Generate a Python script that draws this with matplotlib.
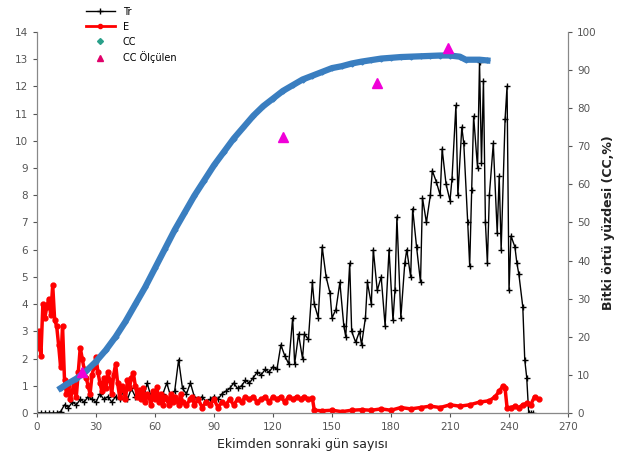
import matplotlib.pyplot as plt
from matplotlib.lines import Line2D

# Tr (transpirasyon) - gun, deger
tr_days = [0, 2, 4, 6, 8, 10, 12, 14, 16, 18, 20, 22, 24, 26, 28, 30, 32, 34, 36, 38,
           40, 42, 44, 46, 48, 50, 52, 54, 56, 58, 60, 62, 64, 66, 68, 70, 72, 74, 76, 78,
           80, 82, 84, 86, 88, 90, 92, 94, 96, 98, 100, 102, 104, 106, 108, 110, 112, 114,
           116, 118, 120, 122, 124, 126, 128, 130, 131, 133, 135, 136, 138, 140, 141, 143,
           145, 147, 149, 150, 152, 154, 156, 157, 159, 160, 162, 164, 165, 167, 168, 170,
           171, 173, 175, 177, 179, 181, 182, 183, 185, 187, 188, 190, 191, 193, 195, 196,
           198, 200, 201, 203, 205, 206, 208, 210, 211, 213, 214, 216, 217, 219, 220, 221,
           222, 224, 225, 226, 227, 228, 229, 230, 232, 234, 235, 236, 238, 239, 240, 241,
           243, 244, 245, 247, 248, 249, 250, 251, 252]
tr_vals = [0, 0, 0, 0, 0, 0, 0.05, 0.3, 0.2, 0.4, 0.3, 0.5, 0.4, 0.6, 0.5, 0.4, 0.7, 0.5, 0.6, 0.4,
           0.6, 0.5, 0.8, 0.5, 0.9, 0.6, 0.7, 0.5, 1.1, 0.6, 0.8, 0.5, 0.7, 1.1, 0.6, 0.8, 1.95, 0.9, 0.7, 1.1,
           0.6, 0.5, 0.6, 0.4, 0.5, 0.6, 0.5, 0.7, 0.8, 0.9, 1.1, 0.9, 1.0, 1.2, 1.1, 1.3, 1.5, 1.4,
           1.6, 1.5, 1.7, 1.6, 2.5, 2.1, 1.8, 3.5, 1.8, 2.9, 2.0, 2.9, 2.7, 4.8, 4.0, 3.5,
           6.1, 5.0, 4.4, 3.5, 3.8, 4.8, 3.2, 2.8, 5.5, 3.0, 2.6, 3.0, 2.5, 3.5, 4.8, 4.0,
           6.0, 4.5, 5.0, 3.2, 6.0, 3.4, 4.5, 7.2, 3.5, 5.5, 6.0, 5.0, 7.5, 6.1, 4.8, 7.9,
           7.0, 8.0, 8.9, 8.5, 8.0, 9.7, 8.4, 7.8, 8.6, 11.3, 8.0, 10.5, 9.9, 7.0, 5.4, 8.2,
           10.9, 9.0, 12.9, 9.2, 12.2, 7.0, 5.5, 8.0, 9.9, 6.6, 8.7, 6.0, 10.8, 12.0, 4.5, 6.5,
           6.1, 5.5, 5.1, 3.9, 1.95, 1.3, 0.0, 0, 0]

# E (evaporasyon)
e_days = [0, 1, 2, 3, 4, 5, 6, 7, 8, 9, 10, 11, 12, 13, 14, 15, 16, 17, 18, 19, 20, 21, 22,
          23, 24, 25, 26, 27, 28, 29, 30, 31, 32, 33, 34, 35, 36, 37, 38, 39, 40, 41, 42, 43,
          44, 45, 46, 47, 48, 49, 50, 51, 52, 53, 54, 55, 56, 57, 58, 59, 60, 61, 62, 63, 64,
          65, 66, 67, 68, 69, 70, 72, 73, 74, 76, 78, 79, 80, 82, 84, 86, 88, 90, 92, 94, 96,
          98, 100, 102, 104, 106, 108, 110, 112, 114, 116, 118, 120, 122, 124, 126, 128, 130,
          132, 134, 136, 138, 140, 141, 145, 150, 155, 160, 165, 170, 175, 180, 185, 190, 195,
          200, 205, 210, 215, 220, 225, 230, 233, 235, 237, 238, 239, 241, 243, 245, 247, 249,
          251, 253, 255]
e_vals = [2.4, 3.0, 2.1, 4.0, 3.5, 3.9, 4.2, 3.6, 4.7, 3.4, 3.2, 2.5, 1.7, 3.2, 1.2, 0.7, 1.0, 0.5, 0.8, 1.2, 0.6, 1.5, 2.4,
          2.0, 1.6, 1.3, 1.0, 0.7, 1.4, 1.7, 2.06, 1.5, 1.1, 0.8, 1.3, 0.9, 1.5, 1.2, 0.7, 1.4, 1.8, 1.1, 0.6, 1.0,
          0.85, 0.5, 1.2, 0.9, 1.3, 1.47, 1.0, 0.6, 0.85, 0.5, 0.9, 0.4, 0.7, 0.6, 0.3, 0.8, 0.5, 0.96, 0.4, 0.7, 0.3,
          0.6, 0.5, 0.3, 0.7, 0.4, 0.6, 0.3, 0.7, 0.4, 0.3, 0.5, 0.6, 0.3, 0.5, 0.2, 0.4, 0.3, 0.5, 0.2, 0.4, 0.3,
          0.5, 0.3, 0.5, 0.4, 0.6, 0.5, 0.6, 0.4, 0.5, 0.6, 0.4, 0.6, 0.5, 0.6, 0.4, 0.6, 0.5,
          0.6, 0.5, 0.6, 0.5, 0.55, 0.1, 0.08, 0.1, 0.05, 0.1, 0.12, 0.1, 0.15, 0.1, 0.2, 0.15, 0.2,
          0.25, 0.2, 0.3, 0.25, 0.3, 0.4, 0.45, 0.6, 0.8, 1.0, 0.9, 0.2, 0.2, 0.25, 0.2, 0.3, 0.35,
          0.3, 0.6, 0.5]

# CC (bitki ortu yuzdesi, %)
cc_days = [12, 15, 20, 25, 30, 35, 40, 45, 50, 55, 60, 65, 70, 75, 80, 85, 90, 95, 100,
           105, 110, 115, 120, 125, 130, 135, 140, 145, 150, 155, 160, 165, 170, 175, 180,
           185, 190, 195, 200, 205, 210, 215, 218, 225, 229]
cc_vals = [6.5, 7.5, 9, 11, 13.5, 16.5, 20, 24, 28.5, 33, 38, 43, 48, 52.5, 57, 61, 65, 68.5, 72,
           75, 78, 80.5, 82.5, 84.5, 86, 87.5, 88.5, 89.5, 90.5, 91, 91.7, 92.2, 92.6, 93, 93.2,
           93.4, 93.5, 93.6, 93.7, 93.8, 93.8, 93.5, 92.7, 92.7, 92.5]

# CC olculen
cc_obs_days = [23, 125, 173, 209]
cc_obs_vals = [10.8, 72.4, 86.6, 95.8]

x_ticks = [0, 30, 60, 90, 120, 150, 180, 210, 240, 270]
left_ticks = list(range(0, 15))
right_ticks = list(range(0, 101, 10))

fig = plt.figure(figsize=(6.31, 4.76), dpi=100)
ax = fig.add_axes([0.0586, 0.1324, 0.8416, 0.8006])
ax2 = ax.twinx()

ax.plot(tr_days, tr_vals, color='black', lw=1, marker='+', ms=4, mew=1, zorder=2)
ax.plot(e_days, e_vals, color='#FF0000', lw=2.5, marker='o', ms=3.5, zorder=3)
ax2.plot(cc_days, cc_vals, color='#3A7EC0', lw=4.5, marker='D', ms=2.5, zorder=3)
ax2.plot(cc_obs_days, cc_obs_vals, linestyle='none', marker='^', ms=7,
         color='#F000D8', zorder=4)

ax.set_xlim(0, 270)
ax.set_ylim(0, 14)
ax2.set_ylim(0, 100)
ax.set_xticks(x_ticks)
ax.set_yticks(left_ticks)
ax2.set_yticks(right_ticks)

for a in (ax, ax2):
    a.spines['top'].set_visible(False)
    a.tick_params(labelsize=7.5, colors='#555555', length=3)
    for s in a.spines.values():
        s.set_color('#888888')
ax.spines['bottom'].set_color('#444444')

ax.set_xlabel('Ekimden sonraki gün sayısı', fontsize=9, color='#222222')
ax2.set_ylabel('Bitki örtü yüzdesi (CC,%)', fontsize=9, color='#222222', fontweight='bold')

handles = [
    Line2D([], [], color='black', lw=1, marker='+', ms=5),
    Line2D([], [], color='#FF0000', lw=2, marker='o', ms=3),
    Line2D([], [], color='#2AA08A', lw=0, marker='D', ms=3),
    Line2D([], [], color='#E0006A', lw=0, marker='^', ms=5),
]
labels = ['Tr', 'E', 'CC', 'CC Ölçülen']
ax2.legend(handles, labels, loc='upper left', bbox_to_anchor=(0.125, 1.0),
           bbox_transform=fig.transFigure, frameon=False, fontsize=7,
           handlelength=3, labelspacing=0.5, borderpad=0.2)

fig.savefig('out.png', dpi=100)
